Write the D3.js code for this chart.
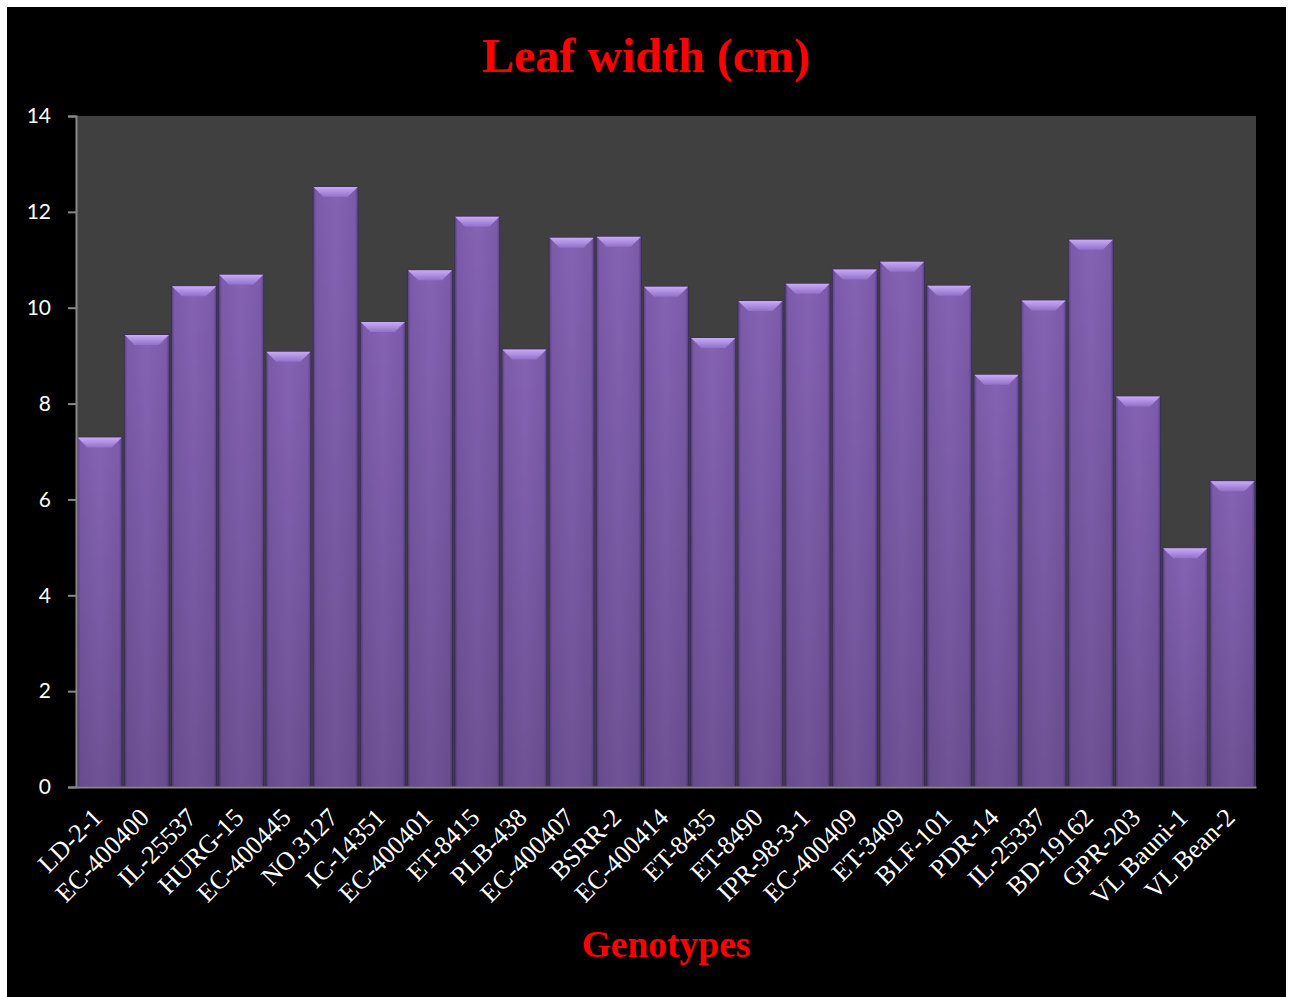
<!DOCTYPE html>
<html>
<head>
<meta charset="utf-8">
<script src="https://cdn.jsdelivr.net/npm/d3@7"></script>
<style>
  html, body { margin: 0; padding: 0; background: #ffffff; }
  svg { display: block; }
</style>
</head>
<body>
<svg id="chart" width="1292" height="997"></svg>
<script>
// Leaf width (cm) by genotype
const genotypes = [
  "LD-2-1", "EC-400400", "IL-25537", "HURG-15", "EC-400445", "NO.3127",
  "IC-14351", "EC-400401", "ET-8415", "PLB-438", "EC-400407", "BSRR-2",
  "EC-400414", "ET-8435", "ET-8490", "IPR-98-3-1", "EC-400409", "ET-3409",
  "BLF-101", "PDR-14", "IL-25337", "BD-19162", "GPR-203", "VL Bauni-1", "VL Bean-2"
];
const leafWidth = [
  7.30, 9.44, 10.46, 10.70, 9.09, 12.53,
  9.71, 10.79, 11.91, 9.14, 11.47, 11.49,
  10.45, 9.38, 10.15, 10.51, 10.81, 10.97,
  10.47, 8.61, 10.16, 11.43, 8.16, 4.99, 6.39
];
const yTicks = [0, 2, 4, 6, 8, 10, 12, 14];

const svg = d3.select("#chart");
const margin = { left: 76, right: 1256, top: 116, bottom: 787 };

// black chart area
svg.append("rect")
  .attr("x", 7).attr("y", 7).attr("width", 1279).attr("height", 990)
  .attr("fill", "#000000");

const defs = svg.append("defs");
const body = defs.append("linearGradient").attr("id", "barBody")
  .attr("x1", "0").attr("x2", "1").attr("y1", "0").attr("y2", "0");
body.append("stop").attr("offset", "0%").attr("stop-color", "#55407d");
body.append("stop").attr("offset", "7%").attr("stop-color", "#7c5baa");
body.append("stop").attr("offset", "50%").attr("stop-color", "#8563b4");
body.append("stop").attr("offset", "93%").attr("stop-color", "#7c5baa");
body.append("stop").attr("offset", "100%").attr("stop-color", "#55407d");

const shade = defs.append("linearGradient").attr("id", "barShade")
  .attr("x1", "0").attr("x2", "0").attr("y1", "0").attr("y2", "1");
shade.append("stop").attr("offset", "0%").attr("stop-color", "#000").attr("stop-opacity", 0);
shade.append("stop").attr("offset", "100%").attr("stop-color", "#000").attr("stop-opacity", 0.17);

const bevel = defs.append("linearGradient").attr("id", "barBevel")
  .attr("x1", "0").attr("x2", "0").attr("y1", "0").attr("y2", "1");
bevel.append("stop").attr("offset", "0%").attr("stop-color", "#c8abf6");
bevel.append("stop").attr("offset", "100%").attr("stop-color", "#9270ca");

// plot area
svg.append("rect")
  .attr("x", margin.left).attr("y", margin.top)
  .attr("width", margin.right - margin.left).attr("height", margin.bottom - margin.top)
  .attr("fill", "#404040");

const x = d3.scaleBand().domain(genotypes).range([margin.left, margin.right]).padding(0);
const y = d3.scaleLinear().domain([0, 14]).range([margin.bottom, margin.top]);

const data = genotypes.map((g, i) => ({ g, v: leafWidth[i] }));
const bars = svg.append("g").selectAll("g").data(data).join("g");

bars.append("rect")
  .attr("x", d => x(d.g) + 1).attr("y", d => y(d.v))
  .attr("width", x.bandwidth() - 2).attr("height", d => y(0) - y(d.v))
  .attr("fill", "url(#barBody)")
  .attr("stroke", "#3e2f5a").attr("stroke-width", 1);
bars.append("rect")
  .attr("x", d => x(d.g) + 1).attr("y", d => y(d.v))
  .attr("width", x.bandwidth() - 2).attr("height", d => y(0) - y(d.v))
  .attr("fill", "url(#barShade)");
bars.append("path")
  .attr("d", d => {
    const x0 = x(d.g) + 1.5, x1 = x(d.g) + x.bandwidth() - 1.5, t = y(d.v) + 0.5, h = 10;
    return `M${x0},${t}L${x1},${t}L${x1 - h},${t + h}L${x0 + h},${t + h}Z`;
  })
  .attr("fill", "url(#barBevel)");

// y axis
const yAxis = svg.append("g")
  .attr("transform", `translate(${margin.left},0)`)
  .call(d3.axisLeft(y).tickValues(yTicks).tickSize(8).tickPadding(17).tickFormat(d3.format("d")));
yAxis.select(".domain").attr("stroke", "#888888").attr("stroke-width", 2);
yAxis.selectAll(".tick line").attr("stroke", "#888888").attr("stroke-width", 2);
yAxis.selectAll(".tick text")
  .attr("fill", "#ffffff").attr("font-family", "Lato, 'Open Sans', sans-serif").attr("font-size", 21);

// x axis
const xAxis = svg.append("g")
  .attr("transform", `translate(0,${margin.bottom})`)
  .call(d3.axisBottom(x).tickSize(0).tickPadding(0));
xAxis.select(".domain").attr("stroke", "#888888").attr("stroke-width", 2);
xAxis.selectAll(".tick text")
  .attr("fill", "#ffffff")
  .attr("font-family", "'Liberation Serif', 'Times New Roman', serif")
  .attr("font-size", 26)
  .attr("text-anchor", "end")
  .attr("dy", null)
  .attr("transform", "translate(4,32) rotate(-45)");

// titles
svg.append("text")
  .attr("x", 646).attr("y", 72)
  .attr("text-anchor", "middle")
  .attr("font-family", "'Liberation Serif', 'Times New Roman', serif")
  .attr("font-weight", "bold").attr("font-size", 48)
  .attr("fill", "#ff0000")
  .text("Leaf width (cm)");

svg.append("text")
  .attr("x", 666).attr("y", 957)
  .attr("text-anchor", "middle")
  .attr("font-family", "'Liberation Serif', 'Times New Roman', serif")
  .attr("font-weight", "bold").attr("font-size", 37.5)
  .attr("fill", "#ff0000")
  .text("Genotypes");
</script>
</body>
</html>
